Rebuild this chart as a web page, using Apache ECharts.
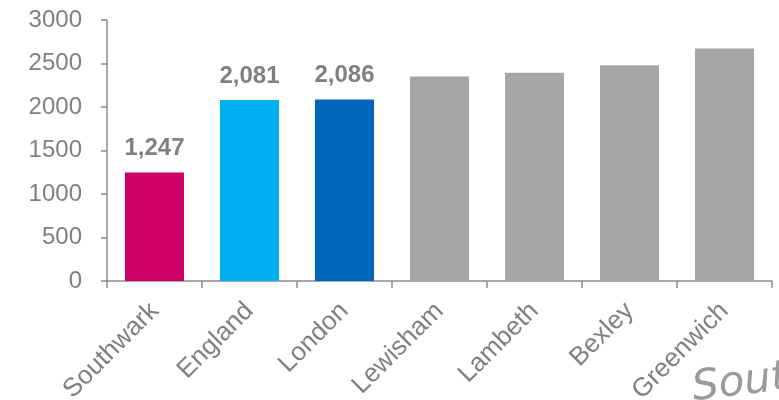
<!DOCTYPE html>
<html>
<head>
<meta charset="utf-8">
<script src="https://cdn.jsdelivr.net/npm/echarts@6/dist/echarts.min.js"></script>
<style>html,body{margin:0;padding:0;background:#fff}#c{width:779px;height:400px}</style>
</head>
<body>
<div id="c"></div>
<script>
const categories = ['Southwark', 'England', 'London', 'Lewisham', 'Lambeth', 'Bexley', 'Greenwich'];
const values = [1247, 2081, 2086, 2350, 2393, 2480, 2672];
const barColors = ['#CC0066', '#00B0F0', '#0066BB', '#A6A6A6', '#A6A6A6', '#A6A6A6', '#A6A6A6'];
const labelled = [true, true, true, false, false, false, false];
const yTicks = [0, 500, 1000, 1500, 2000, 2500, 3000];

const chart = echarts.init(document.getElementById('c'), null, {renderer: 'canvas'});
const font = 'Liberation Sans, Arial, sans-serif';
chart.setOption({
  animation: false,
  grid: {left: 107, right: 7, top: 20, bottom: 119, containLabel: false, outerBoundsMode: 'none'},
  xAxis: {
    type: 'category',
    data: categories,
    axisLine: {lineStyle: {color: '#8C8C8C', width: 1.5}},
    axisTick: {show: true, length: 7, lineStyle: {color: '#8C8C8C', width: 1.5}},
    axisLabel: {rotate: 45, color: '#808080', fontSize: 26, fontFamily: font, margin: 26}
  },
  yAxis: {
    type: 'value',
    min: yTicks[0], max: yTicks[yTicks.length - 1], interval: 500,
    splitLine: {show: false},
    axisLine: {show: true, lineStyle: {color: '#8C8C8C', width: 1.5}},
    axisTick: {show: true, inside: false, length: 6, lineStyle: {color: '#8C8C8C', width: 1.5}},
    axisLabel: {color: '#808080', fontSize: 24, fontFamily: font, margin: 25, formatter: v => String(v)}
  },
  series: [{
    type: 'bar',
    barWidth: 59,
    data: values.map((v, i) => ({
      value: v,
      itemStyle: {color: barColors[i]},
      label: {show: labelled[i]}
    })),
    label: {
      position: 'top', distance: 12,
      color: '#808080', fontSize: 24, fontWeight: 'bold', fontFamily: font,
      formatter: p => p.value.toLocaleString('en-GB')
    }
  }],
  graphic: [{
    type: 'text', left: 690, top: 354, rotation: 0.12,
    style: {text: 'South', fill: '#9A9A9A', font: 'italic 42px "DejaVu Sans", sans-serif'}
  }]
});
</script>
</body>
</html>
